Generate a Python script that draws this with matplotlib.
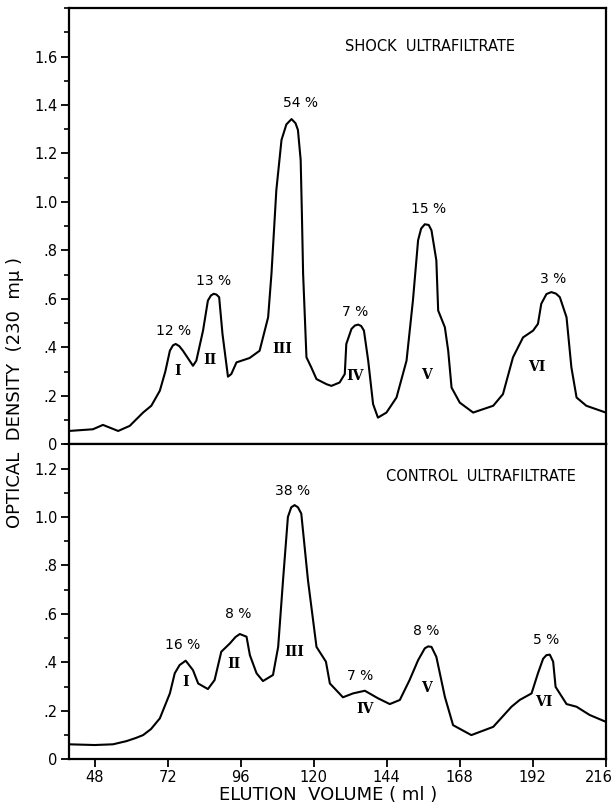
import numpy as np
import matplotlib
matplotlib.use('Agg')
import matplotlib.pyplot as plt
import matplotlib.transforms as mtransforms
from matplotlib.ticker import MultipleLocator, FuncFormatter

# shock ultrafiltrate trace (ml, OD)
shock_ml = [39.5, 47.4, 50.7, 55.7, 59.5, 63.9, 66.6, 69.4, 71.2, 72.7, 73.7, 74.6, 75.8,
            77.0, 80.3, 81.4, 83.6, 85.2, 86.2, 87.1, 88.0, 88.9, 90.0, 91.8, 92.9, 94.6,
            98.9, 102.2, 105.0, 106.1, 107.7, 109.4, 111.0, 112.7, 114.0, 114.8, 115.7,
            116.1, 116.5, 117.6, 119.2, 120.9, 124.2, 125.8, 128.5, 130.2, 130.7, 132.4,
            133.5, 134.6, 135.6, 136.5, 137.9, 139.5, 141.1, 143.9, 147.2, 150.5, 152.6,
            154.3, 155.3, 156.5, 157.8, 158.7, 160.3, 160.9, 163.1, 164.2, 165.3, 168.0,
            172.4, 179.0, 182.2, 185.5, 188.8, 192.1, 193.7, 194.8, 196.5, 198.1, 199.6,
            200.9, 203.1, 204.7, 206.4, 209.6, 216.0]
shock_od = [0.055, 0.062, 0.080, 0.055, 0.076, 0.131, 0.159, 0.221, 0.300, 0.386, 0.408,
            0.414, 0.405, 0.386, 0.324, 0.345, 0.469, 0.593, 0.614, 0.621, 0.618, 0.607,
            0.455, 0.279, 0.290, 0.338, 0.356, 0.386, 0.524, 0.704, 1.049, 1.256, 1.320,
            1.342, 1.325, 1.297, 1.173, 0.952, 0.704, 0.359, 0.317, 0.269, 0.248, 0.241,
            0.255, 0.290, 0.414, 0.476, 0.490, 0.494, 0.488, 0.469, 0.345, 0.166, 0.110,
            0.131, 0.193, 0.345, 0.593, 0.842, 0.890, 0.908, 0.905, 0.883, 0.759, 0.552,
            0.483, 0.386, 0.234, 0.172, 0.131, 0.159, 0.207, 0.359, 0.441, 0.469, 0.497,
            0.580, 0.620, 0.628, 0.622, 0.607, 0.524, 0.317, 0.193, 0.159, 0.131]

# control ultrafiltrate trace (ml, OD)
ctrl_ml = [39.5, 48.0, 54.0, 58.4, 61.5, 63.9, 66.5, 69.4, 72.7, 74.3, 75.9, 77.9, 80.3,
           82.0, 85.2, 87.4, 89.6, 92.4, 94.3, 95.7, 97.9, 99.0, 101.2, 103.3, 106.6,
           108.3, 109.9, 111.5, 112.6, 113.7, 114.8, 115.9, 118.1, 120.9, 124.0, 125.3,
           129.6, 132.9, 136.8, 141.1, 145.0, 148.3, 151.5, 154.3, 156.5, 157.6, 158.7,
           160.3, 163.1, 165.8, 171.8, 179.0, 185.0, 187.7, 191.6, 193.7, 195.4, 196.5,
           197.6, 198.7, 199.5, 203.1, 206.4, 210.7, 216.0]
ctrl_od = [0.062, 0.059, 0.062, 0.075, 0.088, 0.100, 0.125, 0.169, 0.272, 0.355, 0.389,
           0.407, 0.368, 0.313, 0.290, 0.327, 0.444, 0.478, 0.505, 0.517, 0.506, 0.430,
           0.355, 0.323, 0.348, 0.464, 0.739, 1.000, 1.040, 1.049, 1.040, 1.014, 0.739,
           0.464, 0.403, 0.313, 0.256, 0.272, 0.283, 0.252, 0.228, 0.245, 0.327, 0.409,
           0.458, 0.466, 0.464, 0.423, 0.258, 0.141, 0.100, 0.134, 0.217, 0.245, 0.272,
           0.355, 0.415, 0.430, 0.432, 0.403, 0.299, 0.228, 0.217, 0.183, 0.155]

# peak labels: (text, ml, OD)
shock_pct = [('12 %', 74.0, 0.469), ('13 %', 86.9, 0.673), ('54 %', 115.7, 1.41),
             ('7 %', 133.5, 0.545), ('15 %', 157.8, 0.969), ('3 %', 198.7, 0.683)]
shock_roman = [('I', 75.1, 0.301), ('II', 85.8, 0.348), ('III', 109.7, 0.393),
               ('IV', 133.5, 0.283), ('V', 157.0, 0.287), ('VI', 193.2, 0.32)]
ctrl_pct = [('16 %', 76.9, 0.471), ('8 %', 95.2, 0.598), ('38 %', 113.1, 1.108),
            ('7 %', 135.1, 0.343), ('8 %', 157.0, 0.530), ('5 %', 196.5, 0.492)]
ctrl_roman = [('I', 77.9, 0.32), ('II', 93.7, 0.393), ('III', 113.5, 0.444),
              ('IV', 136.8, 0.206), ('V', 157.0, 0.293), ('VI', 195.6, 0.238)]

x_ticks = [48, 72, 96, 120, 144, 168, 192, 216]
shock_yticks = [0, 0.2, 0.4, 0.6, 0.8, 1.0, 1.2, 1.4, 1.6]
ctrl_yticks = [0, 0.2, 0.4, 0.6, 0.8, 1.0, 1.2]

fig, (ax1, ax2) = plt.subplots(2, 1, sharex=True, figsize=(6.15, 8.09), dpi=100,
                               gridspec_kw={'height_ratios': [1.8, 1.3], 'hspace': 0})
fig.subplots_adjust(left=0.112, right=0.985, top=0.990, bottom=0.0614)


def od_fmt(v, pos):
    if abs(v) < 1e-9:
        return '0'
    s = '%.1f' % v
    return s[1:] if s.startswith('0') else s


for ax, ml, od, top, yt in [(ax1, shock_ml, shock_od, 1.8, shock_yticks),
                            (ax2, ctrl_ml, ctrl_od, 1.3, ctrl_yticks)]:
    ax.plot(ml, od, color='black', lw=1.5, solid_joinstyle='round')
    ax.set_ylim(0, top)
    ax.set_xlim(39.5, 216)
    ax.set_yticks(yt)
    ax.yaxis.set_minor_locator(MultipleLocator(0.1))
    ax.yaxis.set_major_formatter(FuncFormatter(od_fmt))
    ax.set_xticks(x_ticks)
    ax.tick_params(axis='both', which='major', direction='out', length=6, width=1.3,
                   labelsize=10.5, pad=2)
    ax.tick_params(axis='y', which='minor', direction='out', length=3.5, width=1.2)
    for sp in ax.spines.values():
        sp.set_linewidth(1.6)

ax1.tick_params(axis='x', labelbottom=False)

# nudge the last x label ("216") so it stays inside the figure
last = ax2.get_xticklabels()[-1]
last.set_transform(last.get_transform() +
                   mtransforms.ScaledTranslation(-5 / 72, 0, fig.dpi_scale_trans))

for lst, ax in [(shock_pct, ax1), (ctrl_pct, ax2)]:
    for t, x, y in lst:
        ax.text(x, y, t, ha='center', va='center', fontsize=10)
for lst, ax in [(shock_roman, ax1), (ctrl_roman, ax2)]:
    for t, x, y in lst:
        ax.text(x, y, t, ha='center', va='center', fontsize=10,
                family='DejaVu Serif', fontweight='bold')

ax1.text(158.1, 1.641, 'SHOCK  ULTRAFILTRATE', ha='center', va='center', fontsize=10.5)
ax2.text(175.0, 1.168, 'CONTROL  ULTRAFILTRATE', ha='center', va='center', fontsize=10.5)

fig.text(0.024, 0.515, 'OPTICAL  DENSITY  (230  m\u03bc )', rotation=90,
         ha='center', va='center', fontsize=13)
fig.text(0.533, 0.017, 'ELUTION  VOLUME ( ml )', ha='center', va='center', fontsize=13)

plt.savefig('out.png', dpi=100)
